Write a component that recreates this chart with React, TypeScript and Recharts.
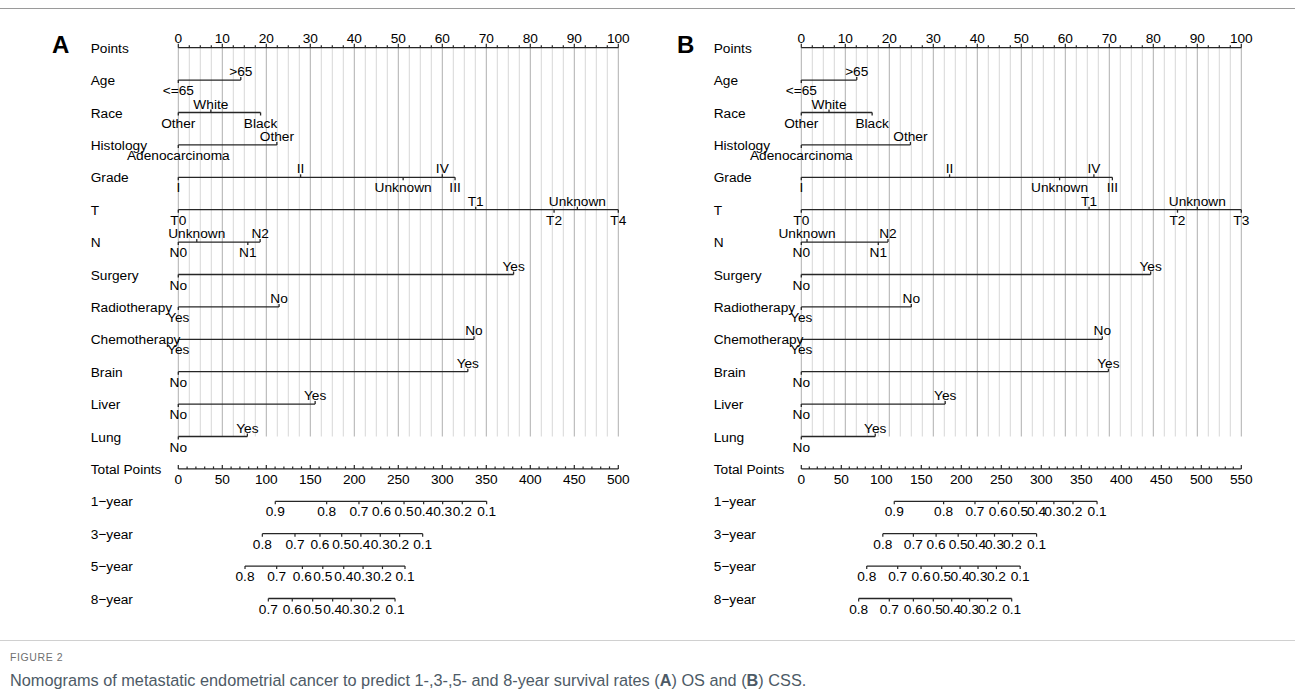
import React from "react";
import { ScatterChart, Scatter, XAxis, YAxis, ReferenceLine } from "recharts";

// row captions, top to bottom
const rowNames = [
  "Points", "Age", "Race", "Histology", "Grade", "T", "N", "Surgery",
  "Radiotherapy", "Chemotherapy", "Brain", "Liver", "Lung",
  "Total Points", "1−year", "3−year", "5−year", "8−year",
];

// level labels of each predictor
const ageLevels = ["<=65", ">65"];
const raceLevels = ["Other", "White", "Black"];
const histologyLevels = ["Adenocarcinoma", "Other"];
const gradeLevels = ["I", "II", "Unknown", "IV", "III"];
const tLevelsOS = ["T0", "T1", "T2", "Unknown", "T4"];
const tLevelsCSS = ["T0", "T1", "T2", "Unknown", "T3"];
const nLevels = ["N0", "Unknown", "N1", "N2"];
const noYes = ["No", "Yes"];
const yesNo = ["Yes", "No"];

// points per level, panel A (OS)
const osAge = [0, 14.2];
const osRace = [0, 7.4, 18.7];
const osHistology = [0, 22.4];
const osGrade = [0, 27.8, 51.1, 60.0, 62.9];
const osT = [0, 67.6, 85.4, 90.7, 100];
const osN = [0, 4.2, 15.8, 18.6];
const osSurgery = [0, 76.2];
const osRadio = [0, 22.9];
const osChemo = [0, 67.2];
const osBrain = [0, 65.8];
const osLiver = [0, 31.1];
const osLung = [0, 15.7];

// points per level, panel B (CSS)
const cssAge = [0, 12.6];
const cssRace = [0, 6.3, 16.1];
const cssHistology = [0, 24.8];
const cssGrade = [0, 33.7, 58.7, 66.5, 70.7];
const cssT = [0, 65.4, 85.5, 90.0, 100];
const cssN = [0, 1.3, 17.5, 19.7];
const cssSurgery = [0, 79.4];
const cssRadio = [0, 25.0];
const cssChemo = [0, 68.4];
const cssBrain = [0, 69.8];
const cssLiver = [0, 32.7];
const cssLung = [0, 16.8];

// survival probability labels
const prob9 = ["0.9", "0.8", "0.7", "0.6", "0.5", "0.4", "0.3", "0.2", "0.1"];
const prob8 = ["0.8", "0.7", "0.6", "0.5", "0.4", "0.3", "0.2", "0.1"];
const prob7 = ["0.7", "0.6", "0.5", "0.4", "0.3", "0.2", "0.1"];

// total points at each probability, panel A
const os1yr = [110.2, 168.6, 205.3, 231, 256.5, 278.8, 300.4, 322.7, 350.4];
const os3yr = [95.5, 132.6, 161, 185.7, 207.5, 229.5, 251.5, 277.7];
const os5yr = [75.8, 111.8, 141, 164.2, 188, 210, 232, 257.6];
const os8yr = [102.3, 129.5, 152.7, 175.4, 196.5, 218.6, 246.3];

// total points at each probability, panel B
const css1yr = [116.2, 177.9, 217.1, 246.3, 271.7, 294.1, 315.7, 339.6, 369.7];
const css3yr = [101.9, 140.1, 168.5, 196.1, 219, 241.5, 264, 294.1];
const css5yr = [81.8, 120.5, 149.7, 175.5, 198.5, 220.9, 243.9, 273.6];
const css8yr = [71.7, 110, 140.1, 165, 188, 210.4, 232.9, 263];

const totalMaxOS = 500;
const totalMaxCSS = 550;

const INK = "#262626";
const TXT = "#000000";
const FONT = "'Liberation Sans', Arial, Helvetica, sans-serif";
const FS = 13.7;

const levelData = (levels: string[], pts: number[], row: number) => {
  const items = levels.map((label, i) => ({ label, x: pts[i], y: row }));
  items.sort((a, b) => a.x - b.x);
  return items.map((d, i) => ({ ...d, side: i % 2 === 0 ? "below" : "above" }));
};

const LevelMark = (props: any) => {
  const { cx, cy, payload } = props;
  const up = payload.side === "above";
  return (
    <g>
      <line x1={cx} x2={cx} y1={cy} y2={up ? cy - 3 : cy + 3} stroke={INK} strokeWidth={1.3} />
      <text x={cx} y={up ? cy - 4 : cy + 15} textAnchor="middle" fontSize={FS} fontFamily={FONT} fill={TXT}>
        {payload.label}
      </text>
    </g>
  );
};

const TotalMark = (props: any) => {
  const { cx, cy, payload } = props;
  const major = payload.x % 50 === 0;
  return (
    <g>
      <line x1={cx} x2={cx} y1={cy} y2={cy - (major ? 4 : 2.5)} stroke={INK} strokeWidth={1.2} />
      {major && (
        <text x={cx} y={cy + 15.5} textAnchor="middle" fontSize={FS} fontFamily={FONT} fill={TXT}>
          {payload.x}
        </text>
      )}
    </g>
  );
};

const ProbMark = (props: any) => {
  const { cx, cy, payload } = props;
  return (
    <g>
      <line x1={cx} x2={cx} y1={cy} y2={cy + 3} stroke={INK} strokeWidth={1.2} />
      <text x={cx} y={cy + 15} textAnchor="middle" fontSize={FS} fontFamily={FONT} fill={TXT}>
        {payload.label}
      </text>
    </g>
  );
};

const PointsTick = (props: any) => {
  const { x, y, payload } = props;
  const v = payload.value;
  const major = v % 10 === 0;
  return (
    <g>
      <line x1={x} x2={x} y1={y} y2={y - (major ? 4 : 2.5)} stroke={INK} strokeWidth={1.2} />
      {major && (
        <text x={x} y={y - 4.5} textAnchor="middle" fontSize={FS} fontFamily={FONT} fill={TXT}>
          {v}
        </text>
      )}
    </g>
  );
};

const RowLabel = (props: any) => {
  const { y, payload } = props;
  return (
    <text x={90.7} y={y + 5} textAnchor="start" fontSize={FS} fontFamily={FONT} fill={TXT}>
      {rowNames[payload.value]}
    </text>
  );
};

const pointTicks: number[] = [];
for (let v = 0; v <= 100; v += 2.5) pointTicks.push(v);

function Panel({ vars, probs, totalMax }: any) {
  const totalTicks: any[] = [];
  for (let v = 0; v <= totalMax; v += 10) totalTicks.push({ x: v, y: 13 });
  return (
    <ScatterChart width={632} height={697} margin={{ top: 27.7, right: 13.7, bottom: 98.5, left: 0 }}>
      <XAxis
        xAxisId="pts"
        dataKey="x"
        type="number"
        orientation="top"
        domain={[0, 100]}
        ticks={pointTicks}
        interval={0}
        height={20}
        tickSize={0}
        tickMargin={0}
        tickLine={false}
        axisLine={{ stroke: INK, strokeWidth: 1.3 }}
        tick={<PointsTick />}
      />
      <XAxis xAxisId="total" dataKey="x" type="number" domain={[0, totalMax]} hide />
      <YAxis
        dataKey="y"
        type="number"
        domain={[0, 17]}
        reversed
        ticks={rowNames.map((_, i) => i)}
        interval={0}
        width={178.3}
        axisLine={false}
        tickLine={false}
        tick={<RowLabel />}
      />
      {pointTicks.map((v) => (
        <ReferenceLine
          key={v}
          xAxisId="pts"
          segment={[{ x: v, y: 0 }, { x: v, y: 12 }]}
          stroke={v % 10 === 0 ? "#b0b0b0" : "#d8d8d8"}
          strokeWidth={1}
        />
      ))}
      {vars.map((v: any, i: number) => (
        <Scatter
          key={v.name}
          xAxisId="pts"
          data={levelData(v.levels, v.points, i + 1)}
          line={{ stroke: INK, strokeWidth: 1.3 }}
          lineType="joint"
          shape={<LevelMark />}
          isAnimationActive={false}
        />
      ))}
      <Scatter
        xAxisId="total"
        data={totalTicks}
        line={{ stroke: INK, strokeWidth: 1.3 }}
        lineType="joint"
        shape={<TotalMark />}
        isAnimationActive={false}
      />
      {probs.map((p: any, i: number) => (
        <Scatter
          key={p.name}
          xAxisId="total"
          data={p.labels.map((label: string, j: number) => ({ label, x: p.values[j], y: 14 + i }))}
          line={{ stroke: INK, strokeWidth: 1.3 }}
          lineType="joint"
          shape={<ProbMark />}
          isAnimationActive={false}
        />
      ))}
    </ScatterChart>
  );
}

const varsOS = [
  { name: "Age", levels: ageLevels, points: osAge },
  { name: "Race", levels: raceLevels, points: osRace },
  { name: "Histology", levels: histologyLevels, points: osHistology },
  { name: "Grade", levels: gradeLevels, points: osGrade },
  { name: "T", levels: tLevelsOS, points: osT },
  { name: "N", levels: nLevels, points: osN },
  { name: "Surgery", levels: noYes, points: osSurgery },
  { name: "Radiotherapy", levels: yesNo, points: osRadio },
  { name: "Chemotherapy", levels: yesNo, points: osChemo },
  { name: "Brain", levels: noYes, points: osBrain },
  { name: "Liver", levels: noYes, points: osLiver },
  { name: "Lung", levels: noYes, points: osLung },
];

const varsCSS = [
  { name: "Age", levels: ageLevels, points: cssAge },
  { name: "Race", levels: raceLevels, points: cssRace },
  { name: "Histology", levels: histologyLevels, points: cssHistology },
  { name: "Grade", levels: gradeLevels, points: cssGrade },
  { name: "T", levels: tLevelsCSS, points: cssT },
  { name: "N", levels: nLevels, points: cssN },
  { name: "Surgery", levels: noYes, points: cssSurgery },
  { name: "Radiotherapy", levels: yesNo, points: cssRadio },
  { name: "Chemotherapy", levels: yesNo, points: cssChemo },
  { name: "Brain", levels: noYes, points: cssBrain },
  { name: "Liver", levels: noYes, points: cssLiver },
  { name: "Lung", levels: noYes, points: cssLung },
];

const probsOS = [
  { name: "1yr", labels: prob9, values: os1yr },
  { name: "3yr", labels: prob8, values: os3yr },
  { name: "5yr", labels: prob8, values: os5yr },
  { name: "8yr", labels: prob7, values: os8yr },
];

const probsCSS = [
  { name: "1yr", labels: prob9, values: css1yr },
  { name: "3yr", labels: prob8, values: css3yr },
  { name: "5yr", labels: prob8, values: css5yr },
  { name: "8yr", labels: prob8, values: css8yr },
];

export default function App() {
  return (
    <div style={{ position: "relative", width: 1295, height: 697, background: "#fff", overflow: "hidden" }}>
      <style>{"body{margin:0}"}</style>
      <div style={{ position: "absolute", left: 0, right: 0, top: 8, borderTop: "1px solid #9a9a9a" }} />
      <div style={{ position: "absolute", left: 0, top: 0 }}>
        <Panel vars={varsOS} probs={probsOS} totalMax={totalMaxOS} />
      </div>
      <div style={{ position: "absolute", left: 623.4, top: 0 }}>
        <Panel vars={varsCSS} probs={probsCSS} totalMax={totalMaxCSS} />
      </div>
      <div style={{ position: "absolute", left: 52, top: 31, font: `bold 24px ${FONT}`, color: "#000" }}>A</div>
      <div style={{ position: "absolute", left: 677, top: 31, font: `bold 24px ${FONT}`, color: "#000" }}>B</div>
      <div style={{ position: "absolute", left: 0, right: 0, top: 640, borderTop: "1px solid #d0d0d0" }} />
      <div
        style={{
          position: "absolute", left: 10, top: 651, font: `10.5px ${FONT}`,
          letterSpacing: 0.6, color: "#6f6f6f",
        }}
      >
        FIGURE 2
      </div>
      <div style={{ position: "absolute", left: 10, top: 671, font: `16.3px ${FONT}`, color: "#4d5a66" }}>
        Nomograms of metastatic endometrial cancer to predict 1-,3-,5- and 8-year survival rates (<b>A</b>) OS and (<b>B</b>) CSS.
      </div>
    </div>
  );
}
